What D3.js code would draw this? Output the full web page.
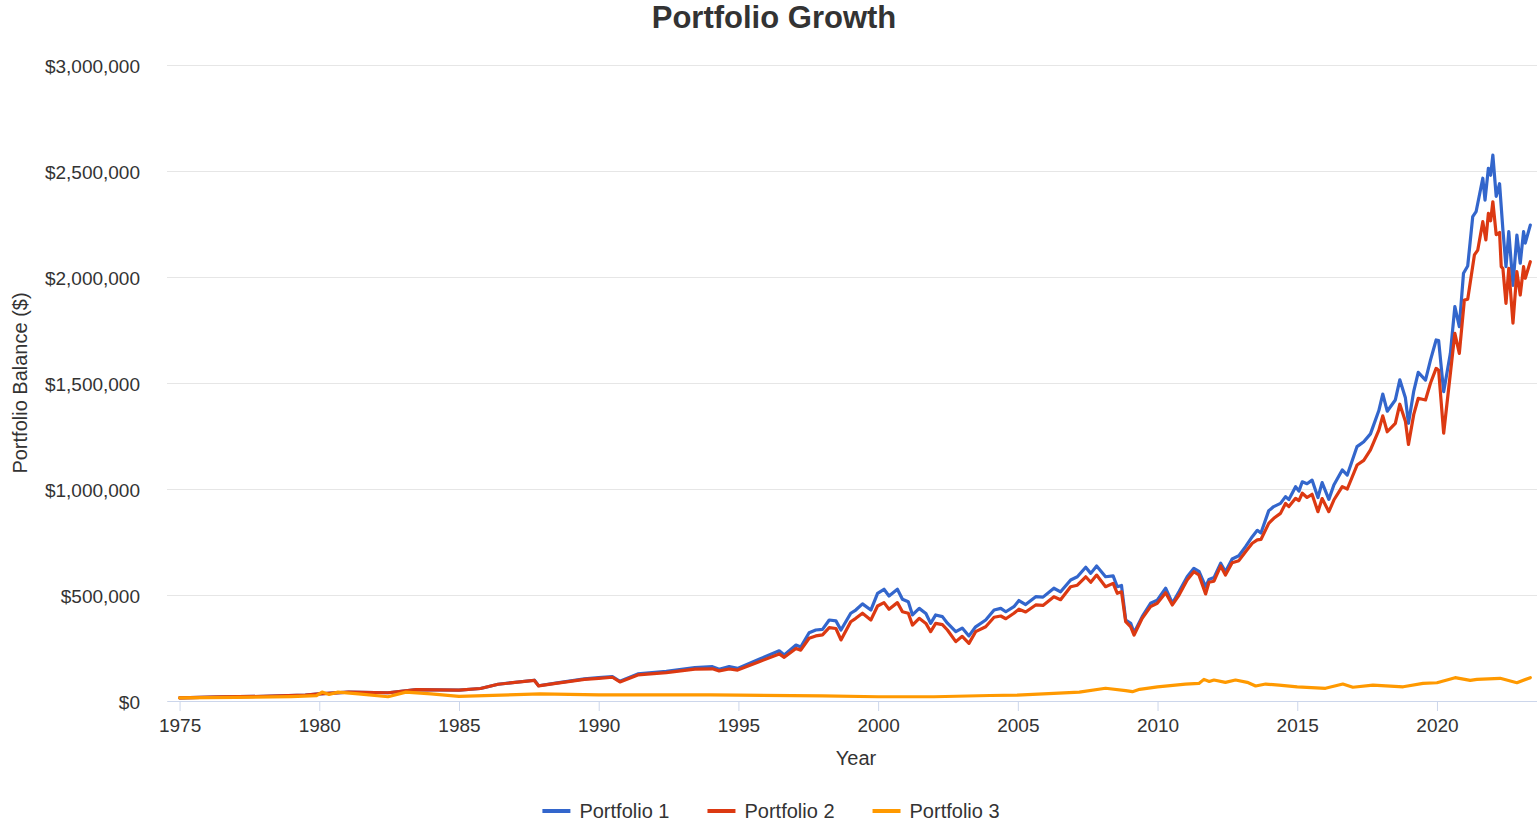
<!DOCTYPE html>
<html>
<head>
<meta charset="utf-8">
<script src="https://cdn.jsdelivr.net/npm/d3@7"></script>
<style>
  body { margin: 0; background: #fff; }
  text { font-family: "Liberation Sans", Arial, sans-serif; fill: #333; }
</style>
</head>
<body>
<div id="chart"></div>
<script>
// values: [year, balance]
let portfolio1 = [
  [1975.00, 15000], [1976.50, 19000], [1978.00, 22000], [1979.50, 28000], [1980.00, 34000],
  [1981.05, 42000], [1982.46, 39000], [1983.48, 54000], [1985.00, 51000], [1985.77, 59000],
  [1986.40, 79000], [1987.70, 98000], [1987.85, 72000], [1988.46, 84000], [1989.49, 104000],
  [1990.00, 110000], [1990.49, 115000], [1990.76, 93000], [1991.40, 128000], [1992.42, 140000],
  [1993.44, 158000], [1994.07, 162000], [1994.31, 150000], [1994.67, 162000], [1994.97, 154000],
  [1995.74, 197000], [1996.46, 237000], [1996.64, 217000], [1997.06, 264000], [1997.23, 255000],
  [1997.53, 322000], [1997.77, 335000], [1998.01, 338000], [1998.25, 382000], [1998.49, 378000],
  [1998.67, 335000], [1999.02, 414000], [1999.20, 429000], [1999.44, 458000], [1999.74, 429000],
  [1999.98, 508000], [2000.21, 527000], [2000.39, 495000], [2000.69, 527000], [2000.87, 480000],
  [2001.08, 468000], [2001.23, 406000], [2001.47, 437000], [2001.71, 413000], [2001.88, 366000],
  [2002.06, 406000], [2002.30, 398000], [2002.48, 367000], [2002.78, 327000], [2003.01, 344000],
  [2003.25, 307000], [2003.49, 350000], [2003.85, 382000], [2004.15, 429000], [2004.39, 437000],
  [2004.57, 421000], [2004.86, 445000], [2005.04, 474000], [2005.28, 455000], [2005.64, 492000],
  [2005.90, 490000], [2006.29, 532000], [2006.53, 515000], [2006.89, 571000], [2007.13, 586000],
  [2007.43, 631000], [2007.61, 602000], [2007.82, 637000], [2008.14, 586000], [2008.41, 590000],
  [2008.56, 539000], [2008.71, 545000], [2008.86, 382000], [2009.04, 366000], [2009.16, 322000],
  [2009.45, 398000], [2009.75, 461000], [2009.99, 476000], [2010.29, 532000], [2010.53, 461000],
  [2010.77, 516000], [2011.06, 586000], [2011.30, 626000], [2011.48, 612000], [2011.72, 539000],
  [2011.84, 573000], [2012.02, 582000], [2012.26, 650000], [2012.43, 610000], [2012.67, 670000],
  [2012.91, 685000], [2013.15, 728000], [2013.39, 775000], [2013.57, 805000], [2013.70, 792000],
  [2013.98, 898000], [2014.16, 917000], [2014.40, 932000], [2014.58, 964000], [2014.70, 950000],
  [2014.94, 1011000], [2015.06, 990000], [2015.18, 1034000], [2015.35, 1025000], [2015.53, 1042000],
  [2015.74, 960000], [2015.89, 1030000], [2016.13, 951000], [2016.31, 1019000], [2016.61, 1090000],
  [2016.79, 1066000], [2017.14, 1200000], [2017.38, 1223000], [2017.62, 1260000], [2017.92, 1370000],
  [2018.06, 1448000], [2018.22, 1367000], [2018.51, 1420000], [2018.67, 1515000], [2018.87, 1430000],
  [2018.98, 1310000], [2019.17, 1462000], [2019.33, 1550000], [2019.59, 1514000], [2019.77, 1609000],
  [2019.97, 1703000], [2020.06, 1700000], [2020.24, 1459000], [2020.48, 1640000], [2020.64, 1860000],
  [2020.80, 1766000], [2020.95, 2018000], [2021.10, 2052000], [2021.28, 2285000], [2021.40, 2308000],
  [2021.64, 2466000], [2021.72, 2363000], [2021.84, 2513000], [2021.92, 2480000], [2022.00, 2575000],
  [2022.12, 2380000], [2022.24, 2440000], [2022.36, 2222000], [2022.47, 2049000], [2022.57, 2214000],
  [2022.72, 1960000], [2022.86, 2198000], [2022.98, 2065000], [2023.10, 2214000], [2023.16, 2160000],
  [2023.34, 2245000]
];

let portfolio2 = [
  [1975.00, 15000], [1976.50, 19000], [1978.00, 22000], [1979.50, 28000], [1980.00, 34000],
  [1981.05, 42000], [1982.46, 39000], [1983.48, 54000], [1985.00, 51000], [1985.77, 59000],
  [1986.40, 79000], [1987.70, 97000], [1987.85, 71000], [1988.46, 83000], [1989.49, 102000],
  [1990.00, 107000], [1990.49, 112000], [1990.76, 90000], [1991.40, 123000], [1992.42, 134000],
  [1993.44, 150000], [1994.07, 152000], [1994.31, 142000], [1994.67, 151000], [1994.97, 146000],
  [1995.74, 185000], [1996.46, 222000], [1996.64, 206000], [1997.06, 248000], [1997.23, 240000],
  [1997.53, 296000], [1997.77, 307000], [1998.01, 312000], [1998.25, 346000], [1998.49, 342000],
  [1998.67, 288000], [1999.02, 374000], [1999.20, 390000], [1999.44, 414000], [1999.74, 382000],
  [1999.98, 448000], [2000.21, 464000], [2000.39, 433000], [2000.69, 464000], [2000.87, 421000],
  [2001.08, 414000], [2001.23, 358000], [2001.47, 390000], [2001.71, 366000], [2001.88, 327000],
  [2002.06, 366000], [2002.30, 360000], [2002.48, 335000], [2002.78, 280000], [2003.01, 305000],
  [2003.25, 272000], [2003.49, 327000], [2003.85, 350000], [2004.15, 395000], [2004.39, 401000],
  [2004.57, 388000], [2004.86, 414000], [2005.04, 433000], [2005.28, 420000], [2005.64, 453000],
  [2005.90, 451000], [2006.29, 492000], [2006.53, 478000], [2006.89, 539000], [2007.13, 546000],
  [2007.43, 586000], [2007.61, 560000], [2007.82, 594000], [2008.14, 539000], [2008.41, 555000],
  [2008.56, 508000], [2008.71, 515000], [2008.86, 374000], [2009.04, 350000], [2009.16, 311000],
  [2009.45, 390000], [2009.75, 445000], [2009.99, 461000], [2010.29, 511000], [2010.53, 453000],
  [2010.77, 500000], [2011.06, 571000], [2011.30, 610000], [2011.48, 595000], [2011.72, 505000],
  [2011.84, 560000], [2012.02, 565000], [2012.26, 637000], [2012.43, 594000], [2012.67, 652000],
  [2012.91, 662000], [2013.15, 704000], [2013.39, 744000], [2013.57, 760000], [2013.70, 762000],
  [2013.98, 838000], [2014.16, 862000], [2014.40, 885000], [2014.58, 932000], [2014.70, 917000],
  [2014.94, 956000], [2015.06, 945000], [2015.18, 980000], [2015.35, 960000], [2015.53, 975000],
  [2015.74, 893000], [2015.89, 955000], [2016.13, 893000], [2016.31, 948000], [2016.61, 1011000],
  [2016.79, 1000000], [2017.14, 1113000], [2017.38, 1135000], [2017.62, 1184000], [2017.92, 1278000],
  [2018.06, 1345000], [2018.22, 1270000], [2018.51, 1310000], [2018.67, 1400000], [2018.87, 1320000],
  [2018.98, 1210000], [2019.17, 1352000], [2019.33, 1428000], [2019.59, 1420000], [2019.77, 1500000],
  [2019.97, 1569000], [2020.06, 1560000], [2020.24, 1263000], [2020.48, 1546000], [2020.64, 1734000],
  [2020.80, 1640000], [2020.98, 1891000], [2021.10, 1895000], [2021.34, 2104000], [2021.46, 2127000],
  [2021.64, 2261000], [2021.75, 2175000], [2021.84, 2300000], [2021.92, 2265000], [2022.00, 2355000],
  [2022.12, 2200000], [2022.24, 2210000], [2022.30, 2049000], [2022.36, 2040000], [2022.47, 1876000],
  [2022.57, 2041000], [2022.72, 1782000], [2022.86, 2025000], [2022.98, 1915000], [2023.10, 2049000],
  [2023.16, 1994000], [2023.34, 2072000]
];

let portfolio3 = [
  [1975.00, 15000], [1977.00, 17000], [1979.00, 21000], [1979.90, 25000], [1980.10, 42000],
  [1980.35, 31000], [1980.67, 42000], [1981.40, 34000], [1982.46, 20000], [1983.10, 42000],
  [1984.00, 34000], [1985.00, 22000], [1987.05, 30000], [1987.90, 34000], [1990.00, 29000],
  [1994.00, 29000], [1995.00, 28000], [1998.00, 24000], [2000.00, 20000], [2002.00, 20000],
  [2004.00, 26000], [2004.98, 28000], [2006.29, 36000], [2007.20, 42000], [2008.14, 60000],
  [2008.86, 49000], [2009.10, 44000], [2009.36, 55000], [2010.00, 67000], [2011.00, 80000],
  [2011.48, 83000], [2011.66, 102000], [2011.85, 92000], [2012.02, 99000], [2012.43, 88000],
  [2012.79, 99000], [2013.21, 88000], [2013.51, 71000], [2013.87, 80000], [2014.35, 75000],
  [2015.00, 67000], [2016.01, 60000], [2016.63, 80000], [2016.99, 65000], [2017.71, 75000],
  [2018.79, 67000], [2019.50, 83000], [2020.00, 86000], [2020.65, 110000], [2021.19, 97000],
  [2021.43, 102000], [2022.26, 107000], [2022.86, 86000], [2023.34, 110000]
];

let seriesNames  = ["Portfolio 1", "Portfolio 2", "Portfolio 3"];
let seriesColors = ["#3366cc", "#dc3912", "#ff9900"];
let yTickValues  = [0, 500000, 1000000, 1500000, 2000000, 2500000, 3000000];
let xTickValues  = [1975, 1980, 1985, 1990, 1995, 2000, 2005, 2010, 2015, 2020];

let exteriorWidth  = 1537,
    exteriorHeight = 824;

let margin = {
  top:    65,
  right:  0,
  bottom: 123,
  left:   167
};

let interiorWidth  = exteriorWidth - margin.left - margin.right,
    interiorHeight = exteriorHeight - margin.top - margin.bottom;

let root =
  d3.select("#chart")
    .append("svg")
      .attr("width", exteriorWidth)
      .attr("height", exteriorHeight);

let svg =
  root.append("g")
      .attr("transform", translate(margin.left, margin.top));

let x = d3.scaleLinear()
    .domain([1974.55, 2023.58])
    .range([0, interiorWidth]);

let y = d3.scaleLinear()
    .domain([0, 3000000])
    .range([interiorHeight, 0]);

let money = d3.format(",");

// grid + y labels
let yAxis = svg.append("g")
    .call(d3.axisLeft(y)
      .tickValues(yTickValues)
      .tickSize(-interiorWidth)
      .tickPadding(27)
      .tickFormat(function(d) { return "$" + money(d); }));

yAxis.select(".domain").remove();
yAxis.selectAll(".tick line").attr("stroke", "#e6e6e6");
yAxis.selectAll(".tick text")
    .attr("font-size", 19)
    .attr("dy", "0.38em");

// x axis
let xAxis = svg.append("g")
    .attr("transform", translate(0, interiorHeight))
    .call(d3.axisBottom(x)
      .tickValues(xTickValues)
      .tickSize(10)
      .tickSizeOuter(0)
      .tickPadding(8)
      .tickFormat(d3.format("d")));

xAxis.select(".domain").attr("stroke", "#ccd6eb");
xAxis.selectAll(".tick line").attr("stroke", "#ccd6eb");
xAxis.selectAll(".tick text").attr("font-size", 19);

let line = d3.line()
    .x(function(d) { return x(d[0]); })
    .y(function(d) { return y(d[1]); });

let series = [portfolio1, portfolio2, portfolio3].map(function(values, i) {
  return { name: seriesNames[i], color: seriesColors[i], values: values };
});

svg.selectAll(".line")
    .data(series)
    .enter()
    .append("path")
      .attr("class", "line")
      .attr("d", function(d) { return line(d.values); })
      .attr("fill", "none")
      .attr("stroke", function(d) { return d.color; })
      .attr("stroke-width", 3.2)
      .attr("stroke-linejoin", "round")
      .attr("stroke-linecap", "round");

// titles
root.append("text")
    .attr("x", 774)
    .attr("y", 28)
    .attr("text-anchor", "middle")
    .attr("font-size", 31)
    .attr("font-weight", "bold")
    .text("Portfolio Growth");

root.append("text")
    .attr("transform", translate(27, margin.top + interiorHeight / 2) + " rotate(-90)")
    .attr("text-anchor", "middle")
    .attr("font-size", 20)
    .text("Portfolio Balance ($)");

root.append("text")
    .attr("x", margin.left + interiorWidth / 2 + 4)
    .attr("y", 765)
    .attr("text-anchor", "middle")
    .attr("font-size", 20)
    .text("Year");

// legend
let legend = root.append("g")
    .attr("transform", translate(0, 811));

let items = legend.selectAll(".item")
    .data(series)
    .enter()
    .append("g")
      .attr("class", "item");

items.append("line")
    .attr("x1", 0)
    .attr("x2", 28)
    .attr("stroke", function(d) { return d.color; })
    .attr("stroke-width", 4);

items.append("text")
    .attr("x", 37)
    .attr("dy", "0.35em")
    .attr("font-size", 20)
    .text(function(d) { return d.name; });

let gap = 38;
let widths = items.nodes().map(function(n) { return n.getBBox().width; });
let total = d3.sum(widths) + gap * (widths.length - 1);
let offset = 771 - total / 2;
items.attr("transform", function(d, i) {
  let pos = offset + d3.sum(widths.slice(0, i)) + gap * i;
  return translate(pos, 0);
});

function translate(x, y=0) {
  return "translate({x}, {y})"
          .replace("{x}", x)
          .replace("{y}", y);
}
</script>
</body>
</html>
